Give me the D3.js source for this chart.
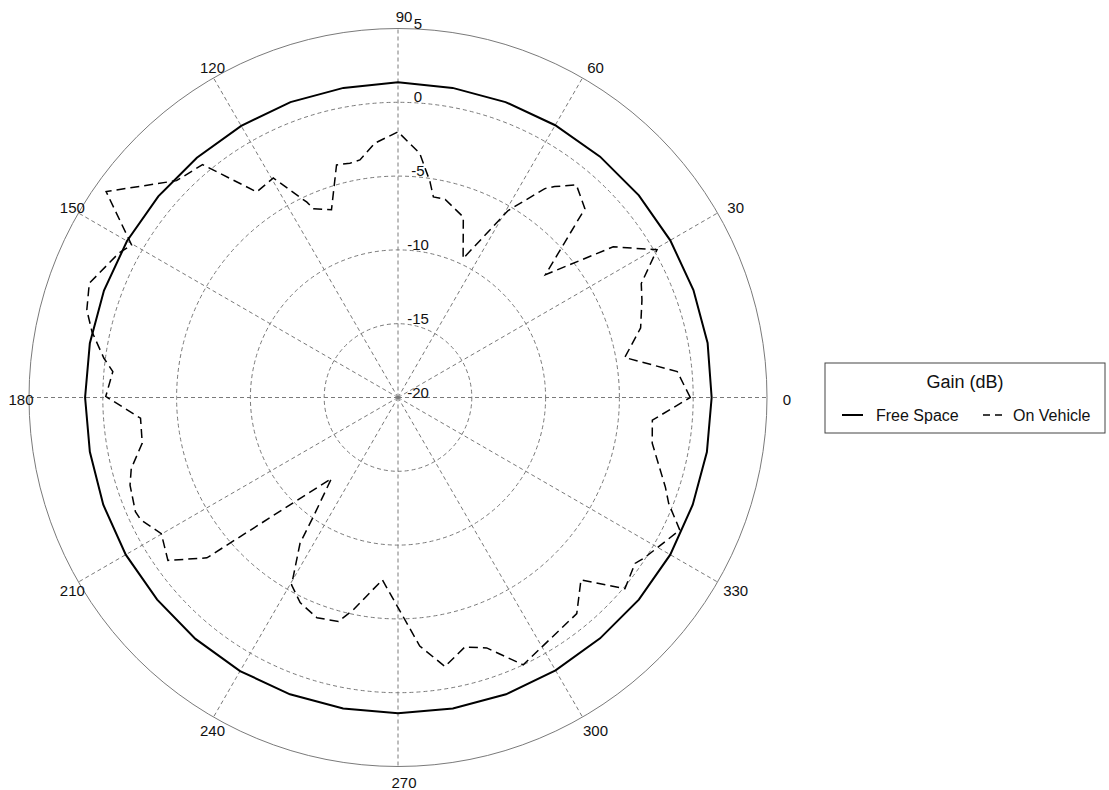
<!DOCTYPE html>
<html>
<head>
<meta charset="utf-8">
<script src="https://cdn.jsdelivr.net/npm/d3@7"></script>
<style>
  html, body { margin: 0; padding: 0; background: #fff; }
  svg { display: block; font-family: "Liberation Sans", Arial, sans-serif; }
</style>
</head>
<body>
<svg id="chart" width="1109" height="790"></svg>
<script>
// Polar axis: direction ticks (degrees) and gain rings (dB)
const angleTicks = [0, 30, 60, 90, 120, 150, 180, 210, 240, 270, 300, 330];
const ringTicks = [-20, -15, -10, -5, 0, 5];

// Free-space pattern, sampled every 10 degrees
const freeSpaceAngles = [0, 10, 20, 30, 40, 50, 60, 70, 80, 90, 100, 110, 120, 130, 140, 150, 160, 170,
  180, 190, 200, 210, 220, 230, 240, 250, 260, 270, 280, 290, 300, 310, 320, 330, 340, 350];
const freeSpaceGain = [1.25, 1.3, 1.3, 1.3, 1.3, 1.3, 1.3, 1.3, 1.3, 1.35, 1.3, 1.3, 1.25, 1.2, 1.2, 1.2, 1.2, 1.2,
  1.2, 1.2, 1.25, 1.3, 1.3, 1.35, 1.4, 1.4, 1.4, 1.4, 1.4, 1.4, 1.35, 1.3, 1.3, 1.3, 1.25, 1.25];

// Pattern measured with the antenna mounted on the vehicle
const vehicleAngles = [0, 5.3, 10, 16, 21.8, 25.1, 29.7, 35, 39.8, 45.3,
  50, 53.4, 54.9, 59.5, 64.9, 70.1, 76.6, 80, 81.6, 84.9,
  90, 95.2, 99.1, 101.6, 104.8, 109.5, 114.1, 115, 119.6, 124.5,
  130, 135.6, 144.8, 150.2, 152.7, 159.7, 164.3, 167.9, 172.4, 174.8,
  179.8, 184.6, 190.1, 194.9, 198.1, 203.5, 205.4, 209.9, 215.3, 220,
  230.6, 234.6, 236.1, 240.4, 244.5, 249.8, 255.1, 258.1, 265.1, 275,
  279.9, 285, 289.5, 295.1, 309.6, 315.1, 319.9, 325, 326.8, 334.8,
  338.6, 341.5, 349.8, 354.9];
const vehicleGain = [-0.2, -1.0, -4.4, -2.9, -2.2, -1.8, 0.2, -2.2, -7.0, -2.0,
  -1.2, -2.2, -2.7, -5.3, -9.6, -7.0, -6.2, -6.2, -5.2, -3.4,
  -2.0, -2.7, -3.7, -3.8, -3.7, -6.5, -6.0, -5.4, -2.9, -3.1,
  0.6, 1.0, 4.2, 0.8, 1.3, 2.3, 1.9, 1.2, 0.1, -0.6,
  -0.2, -2.5, -2.4, -1.3, -0.9, -0.6, -0.7, -1.5, -0.9, -3.1,
  -12.9, -10.1, -8.1, -5.4, -4.6, -4.1, -4.3, -5.3, -7.6, -3.1,
  -1.5, -2.5, -2.0, 0.0, -1.0, -2.5, 0.1, -0.4, -0.1, 1.1,
  -0.3, -0.9, -2.5, -2.7];

const legendTitle = "Gain (dB)";
const seriesNames = ["Free Space", "On Vehicle"];

// ---- layout ----
const cx = 398, cy = 397.5, outerR = 369;
const svg = d3.select("#chart");
const g = svg.append("g").attr("transform", `translate(${cx},${cy})`);

const r = d3.scaleLinear().domain([-20, 5]).range([0, outerR]);
const toRad = deg => (90 - deg) * Math.PI / 180; // lineRadial angle: clockwise from 12 o'clock
const gridColor = "#7a7a7a";

// gain rings
g.selectAll("circle.ring")
  .data(ringTicks.filter(v => v > -20))
  .join("circle")
  .attr("class", "ring")
  .attr("r", d => r(d))
  .attr("fill", "none")
  .attr("stroke", gridColor)
  .attr("stroke-width", 1)
  .attr("stroke-dasharray", d => d === 5 ? null : "4,3");

// direction spokes
g.selectAll("line.spoke")
  .data(angleTicks)
  .join("line")
  .attr("class", "spoke")
  .attr("x1", 0).attr("y1", 0)
  .attr("x2", d => r(5) * Math.cos(d * Math.PI / 180))
  .attr("y2", d => -r(5) * Math.sin(d * Math.PI / 180))
  .attr("stroke", gridColor)
  .attr("stroke-width", 1)
  .attr("stroke-dasharray", "4,3");

// direction labels
const labelR = 383;
g.selectAll("text.angle")
  .data(angleTicks)
  .join("text")
  .attr("class", "angle")
  .attr("x", d => 6 + labelR * Math.cos(d * Math.PI / 180))
  .attr("y", d => 1.5 - labelR * Math.sin(d * Math.PI / 180))
  .attr("text-anchor", "middle")
  .attr("dominant-baseline", "central")
  .attr("font-size", 15)
  .attr("fill", "#111")
  .text(d => d);

// gain labels along the 90 degree spoke
g.selectAll("text.ringlabel")
  .data(ringTicks)
  .join("text")
  .attr("class", "ringlabel")
  .attr("x", 20)
  .attr("y", d => -r(d))
  .attr("text-anchor", "middle")
  .attr("font-size", 15)
  .attr("fill", "#111")
  .text(d => d);

const radialLine = d3.lineRadial()
  .angle(d => toRad(d.a))
  .radius(d => r(d.v))
  .curve(d3.curveLinearClosed);

const freeSpace = freeSpaceAngles.map((a, i) => ({ a, v: freeSpaceGain[i] }));
const vehicle = vehicleAngles.map((a, i) => ({ a, v: vehicleGain[i] }));

g.append("path")
  .datum(freeSpace)
  .attr("d", radialLine)
  .attr("fill", "none")
  .attr("stroke", "#000")
  .attr("stroke-width", 2);

g.append("path")
  .datum(vehicle)
  .attr("d", radialLine)
  .attr("fill", "none")
  .attr("stroke", "#000")
  .attr("stroke-width", 1.5)
  .attr("stroke-dasharray", "9,5");

// ---- legend ----
const lg = svg.append("g").attr("transform", "translate(825,363)");
lg.append("rect")
  .attr("width", 280).attr("height", 70)
  .attr("fill", "#fff")
  .attr("stroke", "#444")
  .attr("stroke-width", 1);
lg.append("text")
  .attr("x", 140).attr("y", 25)
  .attr("text-anchor", "middle")
  .attr("font-size", 18)
  .attr("fill", "#111")
  .text(legendTitle);

const items = [
  { name: seriesNames[0], x: 17, len: 21, tx: 34, dash: null, w: 2 },
  { name: seriesNames[1], x: 158, len: 19, tx: 30, dash: "7,5", w: 1.5 }
];
const li = lg.selectAll("g.item").data(items).join("g")
  .attr("class", "item")
  .attr("transform", d => `translate(${d.x},52)`);
li.append("line")
  .attr("x1", 0).attr("x2", d => d.len).attr("y1", 0).attr("y2", 0)
  .attr("stroke", "#000")
  .attr("stroke-width", d => d.w)
  .attr("stroke-dasharray", d => d.dash);
li.append("text")
  .attr("x", d => d.tx)
  .attr("y", 6)
  .attr("font-size", 16)
  .attr("fill", "#111")
  .text(d => d.name);
</script>
</body>
</html>
